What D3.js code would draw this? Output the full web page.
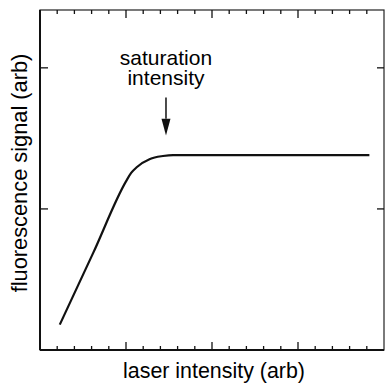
<!DOCTYPE html>
<html>
<head>
<meta charset="utf-8">
<script src="https://cdn.jsdelivr.net/npm/d3@7"></script>
<style>
  body { margin: 0; background: #fff; }
  text { font-family: "Liberation Sans", Arial, sans-serif; fill: #000; }
</style>
</head>
<body>
<div id="chart"></div>
<script>
// curve (arbitrary units)
const laserX = [0.23, 0.62, 1.0, 1.06, 1.128, 1.279, 1.43, 1.547, 3.83];
const signalY = [0.18, 0.69, 1.195, 1.255, 1.297, 1.354, 1.375, 1.382, 1.382];

const majorX = [1, 2, 3];
const minorX = d3.range(0.2, 4, 0.2).filter(v => Math.abs(v - Math.round(v)) > 0.01);
const majorY = [1, 2];

// annotation
const satX = 1.465;
const satLabel = ["saturation", "intensity"];

const width = 385, height = 386;
const margin = { top: 10, right: 1, bottom: 36, left: 40 };

const svg = d3.select("#chart")
  .append("svg")
  .attr("width", width)
  .attr("height", height);

const x = d3.scaleLinear()
  .domain([0, 4])
  .range([margin.left, width - margin.right]);

const y = d3.scaleLinear()
  .domain([0, 2.41])
  .range([height - margin.bottom, margin.top]);

const x0 = x.range()[0], x1 = x.range()[1];
const y0 = y.range()[0], y1 = y.range()[1];

// frame
svg.append("rect")
  .attr("x", x0)
  .attr("y", y1)
  .attr("width", x1 - x0)
  .attr("height", y0 - y1)
  .attr("fill", "none")
  .attr("stroke", "#222")
  .attr("stroke-width", 1.2);

// heavier left and bottom edges
svg.append("line")
  .attr("x1", x0).attr("x2", x0)
  .attr("y1", y1).attr("y2", y0)
  .attr("stroke", "#111").attr("stroke-width", 2);
svg.append("line")
  .attr("x1", x0).attr("x2", x1)
  .attr("y1", y0).attr("y2", y0)
  .attr("stroke", "#111").attr("stroke-width", 2);

// x ticks, bottom and top, pointing inward
const tickG = svg.append("g").attr("stroke", "#111").attr("stroke-width", 1.3);

const xTicks = majorX.map(v => ({ v, len: 8 }))
  .concat(minorX.map(v => ({ v, len: 4 })));

tickG.selectAll(".xb")
  .data(xTicks)
  .enter()
  .append("line")
  .attr("x1", d => x(d.v)).attr("x2", d => x(d.v))
  .attr("y1", y0).attr("y2", d => y0 - d.len);

tickG.selectAll(".xt")
  .data(xTicks)
  .enter()
  .append("line")
  .attr("x1", d => x(d.v)).attr("x2", d => x(d.v))
  .attr("y1", y1).attr("y2", d => y1 + d.len);

// y ticks, left and right
tickG.selectAll(".yl")
  .data(majorY)
  .enter()
  .append("line")
  .attr("x1", x0).attr("x2", x0 + 8)
  .attr("y1", d => y(d)).attr("y2", d => y(d));

tickG.selectAll(".yr")
  .data(majorY)
  .enter()
  .append("line")
  .attr("x1", x1).attr("x2", x1 - 7)
  .attr("y1", d => y(d)).attr("y2", d => y(d));

// the curve
const line = d3.line()
  .x(d => x(d[0]))
  .y(d => y(d[1]))
  .curve(d3.curveMonotoneX);

svg.append("path")
  .datum(d3.zip(laserX, signalY))
  .attr("d", line)
  .attr("fill", "none")
  .attr("stroke", "#111")
  .attr("stroke-width", 2.2);

// arrow
svg.append("line")
  .attr("x1", x(satX)).attr("x2", x(satX))
  .attr("y1", y(1.79)).attr("y2", y(1.64))
  .attr("stroke", "#111").attr("stroke-width", 1.5);

svg.append("path")
  .attr("d", `M${x(satX) - 4.5},${y(1.64)} L${x(satX) + 4.5},${y(1.64)} L${x(satX)},${y(1.52)} Z`)
  .attr("fill", "#111");

svg.selectAll(".sat")
  .data(satLabel)
  .enter()
  .append("text")
  .attr("x", x(satX))
  .attr("y", (d, i) => 65 + i * 20)
  .attr("text-anchor", "middle")
  .style("font-size", "21px")
  .text(d => d);

// axis titles
svg.append("text")
  .attr("x", 214)
  .attr("y", 378)
  .attr("text-anchor", "middle")
  .style("font-size", "21.4px")
  .text("laser intensity (arb)");

svg.append("text")
  .attr("transform", "translate(27, 173) rotate(-90)")
  .attr("text-anchor", "middle")
  .style("font-size", "21.8px")
  .text("fluorescence signal (arb)");
</script>
</body>
</html>
